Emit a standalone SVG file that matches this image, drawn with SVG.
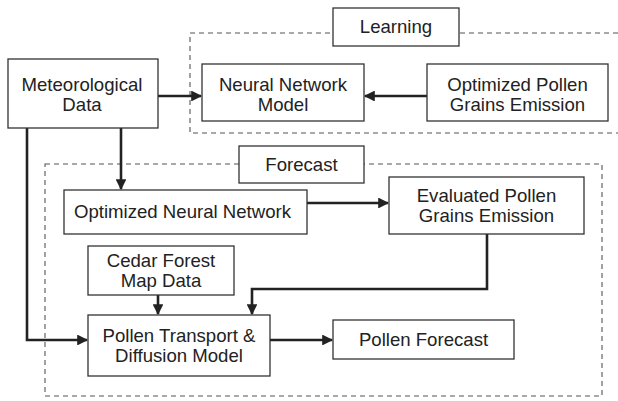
<svg xmlns="http://www.w3.org/2000/svg" width="618" height="401" viewBox="0 0 618 401">
<style>
.box{fill:#fff;stroke:#333;stroke-width:1.3}
.grp{fill:none;stroke:#555;stroke-width:1.1;stroke-dasharray:5 4}
.t{font-family:"Liberation Sans",Arial,sans-serif;font-size:18.6px;fill:#222;text-anchor:middle}
.c{fill:none;stroke:#222;stroke-width:2.6}
</style>
<defs>
<marker id="ah" viewBox="0 0 10 10" refX="9" refY="5" markerWidth="4.2" markerHeight="4.2" orient="auto" markerUnits="strokeWidth">
<path d="M0,0 L10,5 L0,10 z" fill="#222"/>
</marker>
</defs>
<rect width="618" height="401" fill="#fff"/>
<g id="learning-group">
<rect class="grp" x="190" y="33" width="440" height="100"/>
</g>
<g id="forecast-group">
<rect class="grp" x="45" y="164" width="557" height="232"/>
</g>
<g id="connectors">
<path class="c" d="M158,96 L201,96" marker-end="url(#ah)"/>
<path class="c" d="M427,96 L365,96" marker-end="url(#ah)"/>
<path class="c" d="M121,128 L121,189" marker-end="url(#ah)"/>
<path class="c" d="M27,128 L27,340 L87,340" marker-end="url(#ah)"/>
<path class="c" d="M307,203 L388,203" marker-end="url(#ah)"/>
<path class="c" d="M158,295 L158,314" marker-end="url(#ah)"/>
<path class="c" d="M487,234 L487,289 L252,289 L252,314" marker-end="url(#ah)"/>
<path class="c" d="M270,340 L332,340" marker-end="url(#ah)"/>
</g>
<g id="learning-label">
<rect class="box" x="333" y="8" width="126" height="38"/>
<text class="t" x="396" y="33">Learning</text>
</g>
<g id="forecast-label">
<rect class="box" x="239" y="146" width="125" height="37"/>
<text class="t" x="301.5" y="171">Forecast</text>
</g>
<g id="meteorological-data">
<rect class="box" x="8" y="59" width="150" height="69"/>
<text class="t" x="82" y="90.5">Meteorological</text>
<text class="t" x="82" y="110.5">Data</text>
</g>
<g id="neural-network-model">
<rect class="box" x="202" y="64" width="162" height="57"/>
<text class="t" x="283" y="90.5">Neural Network</text>
<text class="t" x="283" y="110.5">Model</text>
</g>
<g id="optimized-pollen">
<rect class="box" x="427" y="64" width="181" height="57"/>
<text class="t" x="517.5" y="90.5">Optimized Pollen</text>
<text class="t" x="517.5" y="110.5">Grains Emission</text>
</g>
<g id="optimized-nn">
<rect class="box" x="64" y="190" width="243" height="44"/>
<text class="t" x="182.5" y="218">Optimized Neural Network</text>
</g>
<g id="evaluated-pollen">
<rect class="box" x="389" y="177" width="195" height="57"/>
<text class="t" x="486.5" y="202">Evaluated Pollen</text>
<text class="t" x="486.5" y="222">Grains Emission</text>
</g>
<g id="cedar-forest">
<rect class="box" x="88" y="246" width="146" height="49"/>
<text class="t" x="161" y="267">Cedar Forest</text>
<text class="t" x="161" y="287">Map Data</text>
</g>
<g id="pollen-transport">
<rect class="box" x="88" y="315" width="182" height="61"/>
<text class="t" x="179" y="342">Pollen Transport &amp;</text>
<text class="t" x="179" y="362">Diffusion Model</text>
</g>
<g id="pollen-forecast">
<rect class="box" x="333" y="320" width="181" height="39"/>
<text class="t" x="423.5" y="346">Pollen Forecast</text>
</g>
</svg>
